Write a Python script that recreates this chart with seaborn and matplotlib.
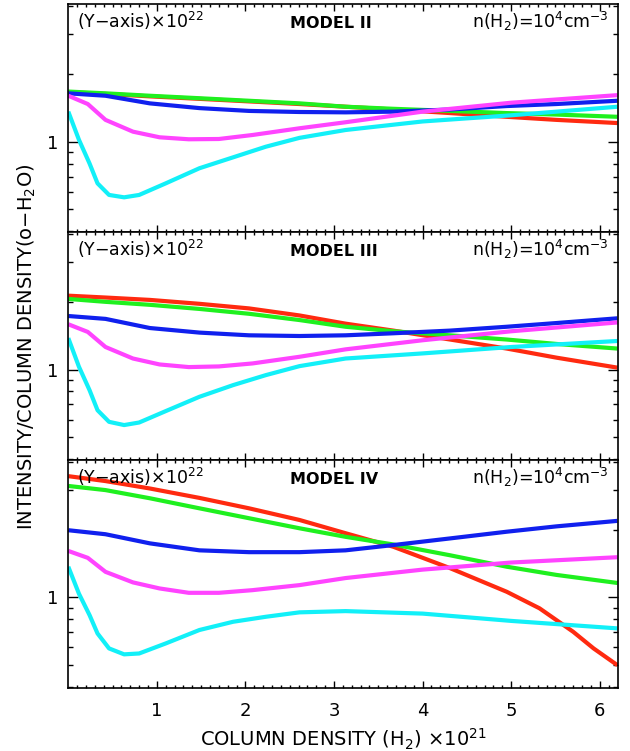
import matplotlib
matplotlib.use("Agg")
import matplotlib.pyplot as plt
from matplotlib.ticker import FixedLocator, NullFormatter, FuncFormatter
import seaborn as sns
import pandas as pd

# ---------------- data ----------------
MODELS = ["MODEL II", "MODEL III", "MODEL IV"]
LINE_ORDER = ["red", "green", "blue", "magenta", "cyan"]
COLORS = {"red": "#ff2a10", "green": "#1ff01f", "blue": "#1020ee",
          "magenta": "#ff44ff", "cyan": "#12f0f8"}

X_LINE = [0.0, 0.42, 0.92, 1.48, 2.04, 2.61, 3.13, 3.67, 4.31, 4.95, 5.51, 6.2]
X_MAG = [0.0, 0.22, 0.42, 0.73, 1.03, 1.36, 1.70, 2.08, 2.61, 3.13, 4.0, 5.0, 6.2]
X_CYAN = [0.0, 0.12, 0.24, 0.33, 0.46, 0.63, 0.80, 1.10, 1.48, 1.86, 2.23, 2.61,
          3.13, 4.0, 5.0, 6.2]
X_RED4 = [0.0, 0.42, 0.92, 1.48, 2.04, 2.61, 3.13, 3.67, 4.31, 4.95, 5.32, 5.70,
          5.93, 6.2]

# MODEL II
M2_RED = [1.66, 1.63, 1.59, 1.55, 1.51, 1.47, 1.43, 1.39, 1.34, 1.29, 1.25, 1.21]
M2_GREEN = [1.67, 1.64, 1.60, 1.56, 1.52, 1.48, 1.43, 1.40, 1.37, 1.34, 1.32, 1.29]
M2_BLUE = [1.64, 1.60, 1.48, 1.41, 1.37, 1.355, 1.35, 1.36, 1.39, 1.44, 1.47, 1.52]
M2_MAG = [1.60, 1.47, 1.25, 1.108, 1.046, 1.025, 1.028, 1.071, 1.147, 1.22, 1.36,
          1.49, 1.61]
M2_CYAN = [1.36, 1.02, 0.80, 0.653, 0.58, 0.566, 0.58, 0.653, 0.762, 0.852, 0.95,
           1.04, 1.127, 1.23, 1.31, 1.43]

# MODEL III
M3_RED = [2.13, 2.09, 2.04, 1.96, 1.87, 1.74, 1.60, 1.49, 1.36, 1.24, 1.13, 1.02]
M3_GREEN = [2.06, 2.00, 1.94, 1.86, 1.77, 1.66, 1.55, 1.48, 1.42, 1.36, 1.30, 1.24]
M3_BLUE = [1.73, 1.68, 1.53, 1.46, 1.42, 1.41, 1.42, 1.45, 1.49, 1.55, 1.61, 1.69]
M3_MAG = [1.59, 1.47, 1.26, 1.12, 1.054, 1.026, 1.033, 1.065, 1.14, 1.23, 1.35,
          1.48, 1.62]
M3_CYAN = [1.38, 1.03, 0.81, 0.66, 0.586, 0.567, 0.582, 0.654, 0.757, 0.853, 0.945,
           1.036, 1.12, 1.18, 1.26, 1.34]

# MODEL IV
M4_RED = [3.46, 3.29, 3.05, 2.77, 2.49, 2.21, 1.93, 1.68, 1.35, 1.06, 0.895, 0.704,
          0.594, 0.50]
M4_GREEN = [3.13, 3.00, 2.76, 2.49, 2.25, 2.03, 1.86, 1.72, 1.54, 1.37, 1.26, 1.16]
M4_BLUE = [1.99, 1.91, 1.74, 1.62, 1.59, 1.59, 1.62, 1.71, 1.83, 1.96, 2.07, 2.19]
M4_MAG = [1.61, 1.50, 1.30, 1.167, 1.097, 1.049, 1.049, 1.078, 1.135, 1.22, 1.33,
          1.43, 1.51]
M4_CYAN = [1.37, 1.04, 0.835, 0.692, 0.594, 0.559, 0.564, 0.625, 0.717, 0.78, 0.821,
           0.859, 0.87, 0.848, 0.787, 0.729]

X_TICKS = [1, 2, 3, 4, 5, 6]
Y_MAJOR = [1]
Y_MINOR = [0.4, 0.5, 0.6, 0.7, 0.8, 0.9, 2, 3, 4]

PANELS = [
    {"red": (X_LINE, M2_RED), "green": (X_LINE, M2_GREEN), "blue": (X_LINE, M2_BLUE),
     "magenta": (X_MAG, M2_MAG), "cyan": (X_CYAN, M2_CYAN)},
    {"red": (X_LINE, M3_RED), "green": (X_LINE, M3_GREEN), "blue": (X_LINE, M3_BLUE),
     "magenta": (X_MAG, M3_MAG), "cyan": (X_CYAN, M3_CYAN)},
    {"red": (X_RED4, M4_RED), "green": (X_LINE, M4_GREEN), "blue": (X_LINE, M4_BLUE),
     "magenta": (X_MAG, M4_MAG), "cyan": (X_CYAN, M4_CYAN)},
]

# ---------------- figure ----------------
plt.rcParams["font.family"] = ["DejaVu Sans"]
plt.rcParams["mathtext.fontset"] = "dejavusans"

fig = plt.figure(figsize=(6.3, 7.51), dpi=100)
W, H = 630.0, 751.0
left_px, right_px = 68.3, 617.5
top_px, bot_px = 4.0, 687.7
ph = (bot_px - top_px) / 3.0

axes = []
for i in range(3):
    top_i = top_px + i * ph
    rect = [left_px / W, 1 - (top_i + ph) / H, (right_px - left_px) / W, ph / H]
    axes.append(fig.add_axes(rect))

for i, ax in enumerate(axes):
    rows = []
    for name in LINE_ORDER:
        xs, ys = PANELS[i][name]
        for xv, yv in zip(xs, ys):
            rows.append({"x": xv, "y": yv, "line": name})
    df = pd.DataFrame(rows)
    sns.lineplot(data=df, x="x", y="y", hue="line", hue_order=LINE_ORDER,
                 palette=COLORS, ax=ax, legend=False, estimator=None, sort=False,
                 linewidth=3.0, solid_capstyle="butt")
    ax.set_yscale("log")
    ax.set_xlim(0, 6.2)
    ax.set_ylim(0.3974, 4.09)
    ax.xaxis.set_major_locator(FixedLocator(X_TICKS))
    ax.xaxis.set_minor_locator(FixedLocator([k / 10 for k in range(1, 62)]))
    ax.yaxis.set_major_locator(FixedLocator(Y_MAJOR))
    ax.yaxis.set_minor_locator(FixedLocator(Y_MINOR))
    ax.yaxis.set_major_formatter(FuncFormatter(lambda v, p: "1"))
    ax.yaxis.set_minor_formatter(NullFormatter())
    ax.tick_params(axis="both", which="both", direction="in", top=True, right=True,
                   colors="black", width=1.0)
    ax.tick_params(axis="x", which="major", length=5, labelsize=13, pad=10)
    ax.tick_params(axis="x", which="minor", length=2.2)
    ax.tick_params(axis="y", which="major", length=7, labelsize=13, pad=7)
    ax.tick_params(axis="y", which="minor", length=3.6)
    for s in ax.spines.values():
        s.set_linewidth(1.2)
        s.set_color("black")
    ax.set_xlabel("")
    ax.set_ylabel("")
    if i < 2:
        ax.tick_params(axis="x", which="both", labelbottom=False)

    ax.text(0.1, 0.0, r"(Y$-$axis)$\times$10$^{22}$", transform=ax.get_xaxis_transform(),
            fontsize=12.5, ha="left", va="baseline")
    ax.text(2.5, 0.0, MODELS[i], transform=ax.get_xaxis_transform(),
            fontsize=11.5, fontweight="bold", ha="left", va="baseline")
    ax.text(6.1, 0.0, r"n(H$_2$)=10$^4$cm$^{-3}$", transform=ax.get_xaxis_transform(),
            fontsize=12.5, ha="right", va="baseline")
    for t in ax.texts:
        t.set_y(0.8925)

axes[2].set_xlabel(r"COLUMN DENSITY (H$_2$) $\times$10$^{21}$", fontsize=14, labelpad=5)
fig.text(27 / W, 1 - 347 / H, r"INTENSITY/COLUMN DENSITY(o$-$H$_2$O)", rotation=90,
         fontsize=14, ha="center", va="center")

fig.savefig("out.png", dpi=100)
